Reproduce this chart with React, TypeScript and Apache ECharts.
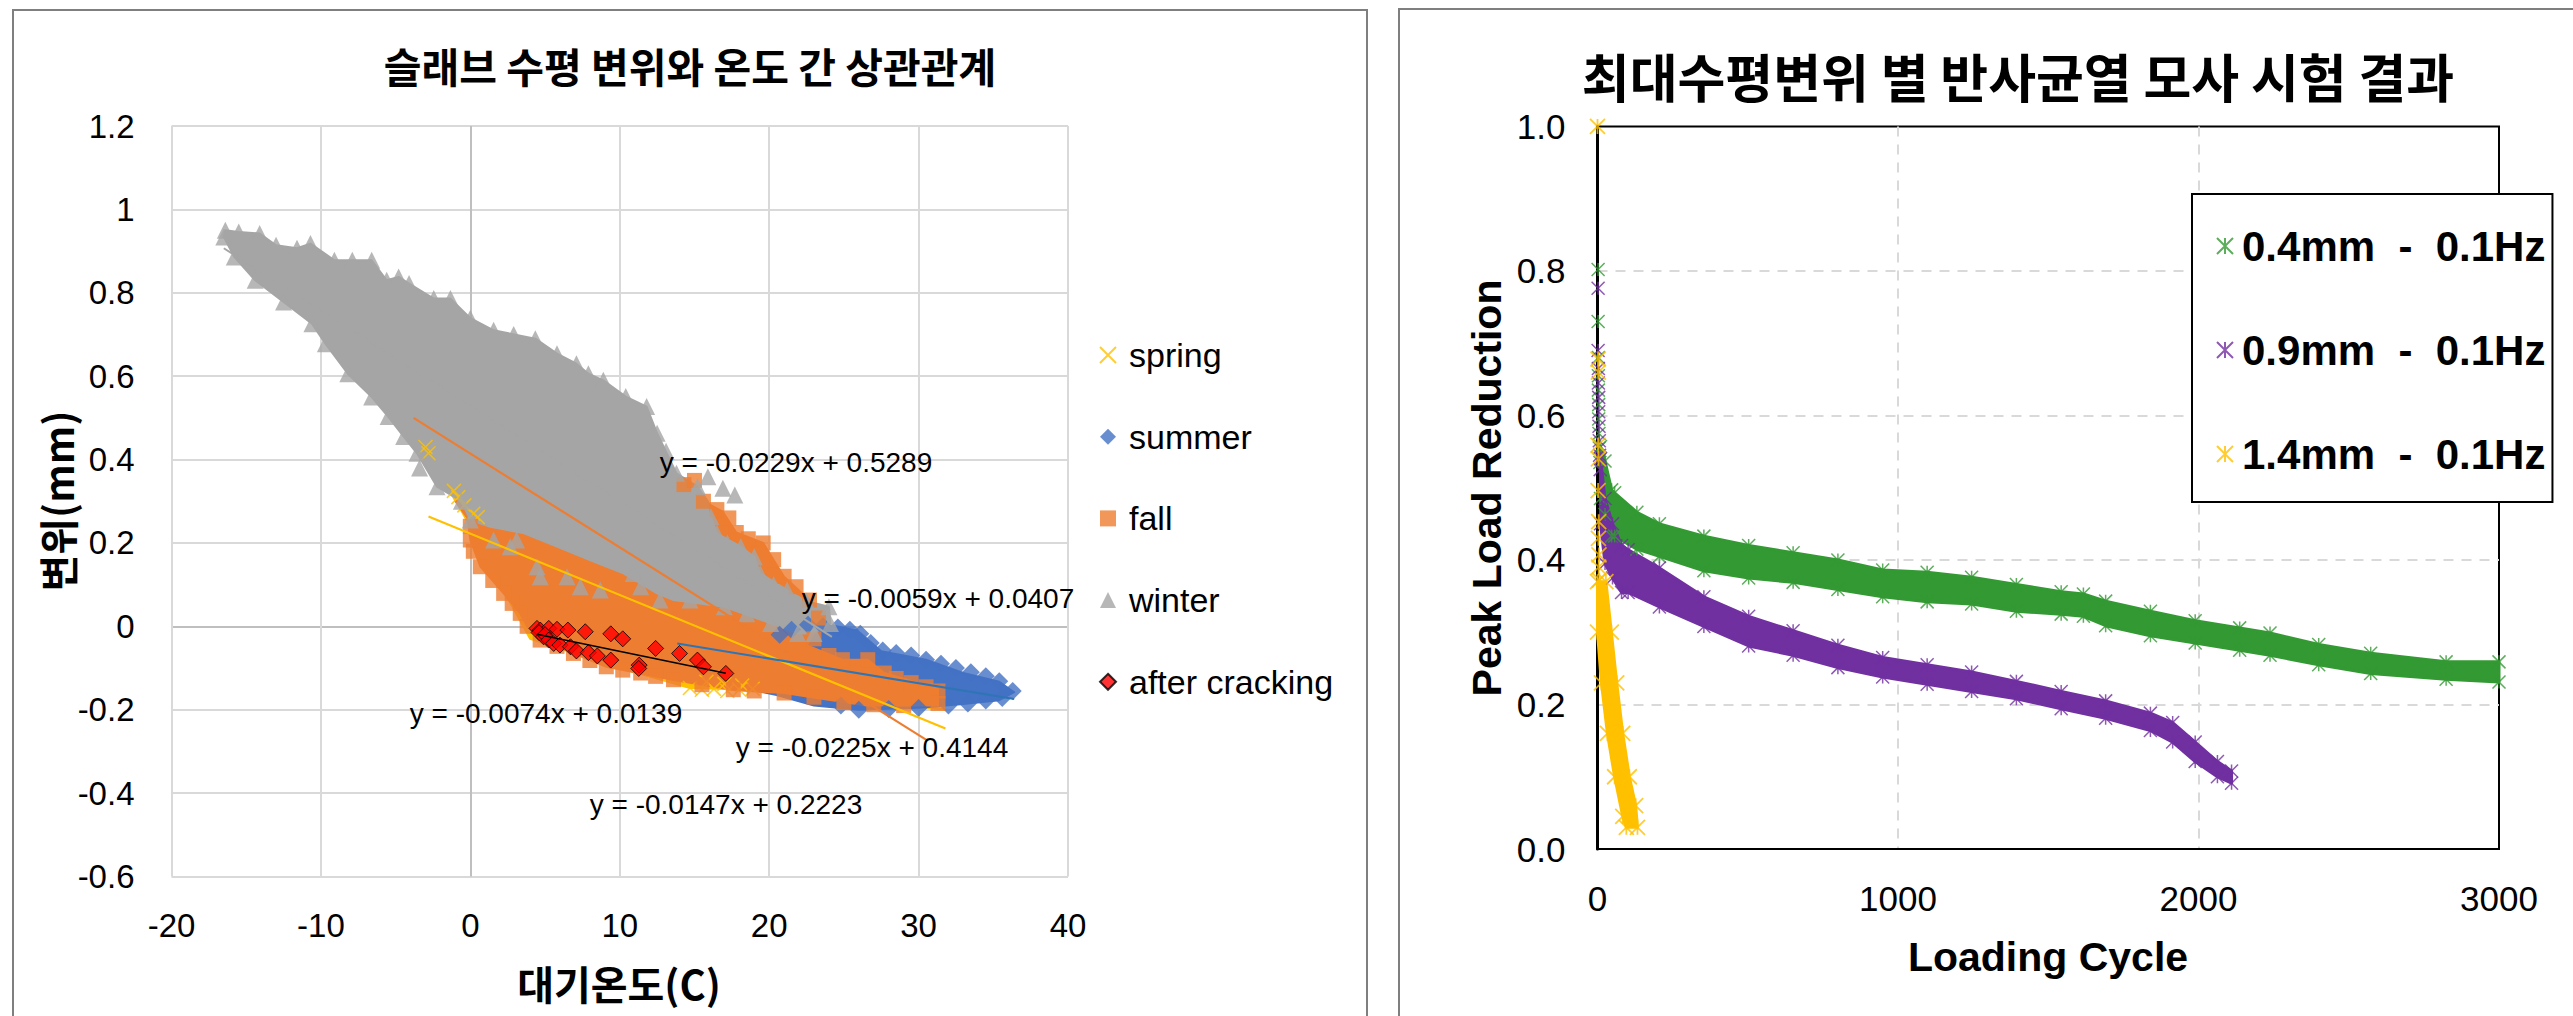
import React, { useEffect, useRef } from "react";
import * as echarts from "echarts";

const LATIN = '"Liberation Sans", Arial, sans-serif';
const KR = '"Noto Sans CJK KR", "Noto Sans", sans-serif';

// ---------- Left chart data (temperature °C, displacement mm) ----------
const leftLegend = ["spring", "summer", "fall", "winter", "after cracking"];

const springCloud: number[][] = [
  [-3.0, 0.43], [-1.2, 0.33], [0.5, 0.27], [5, 0.12], [10, 0.0], [15, -0.09], [19, -0.12], [25, -0.15],
  [31.8, -0.2], [25, -0.175], [19, -0.152], [14.7, -0.148], [10, -0.1], [4, -0.03], [2.0, 0.1], [0.6, 0.2],
  [-0.8, 0.29], [-2.9, 0.41],
];
const springPoints: number[][] = [
  [-3.0, 0.43], [-2.8, 0.415], [-1.1, 0.325], [-0.8, 0.31], [-0.4, 0.29], [0.2, 0.27], [0.5, 0.262],
  [14.7, -0.148], [15.5, -0.152], [16.3, -0.15], [17.2, -0.155], [18.0, -0.152], [18.9, -0.15],
  [15.8, -0.133], [17.0, -0.138], [18.2, -0.142],
];

const summerCloud: number[][] = [
  [14, -0.045], [17, -0.03], [20.5, -0.02], [22.5, 0.004], [24.5, 0.0], [25.9, -0.01], [27.5, -0.06], [30.5, -0.08],
  [33.0, -0.112], [35.4, -0.133], [36.4, -0.158], [35.4, -0.177], [33.0, -0.186], [30.0, -0.195], [26.0, -0.2],
  [23.0, -0.19], [20.5, -0.165], [16, -0.13], [14, -0.08],
];
const summerPoints: number[][] = [
  [20.7, -0.02], [21.5, -0.008], [22.6, 0.004], [23.6, 0.0], [24.6, -0.003], [25.4, -0.008], [26.1, -0.018],
  [26.8, -0.04], [27.6, -0.058], [28.5, -0.064], [29.5, -0.07], [30.5, -0.08], [31.5, -0.09], [32.5, -0.1],
  [33.5, -0.11], [34.5, -0.12], [35.4, -0.132], [36.3, -0.155], [35.6, -0.172], [34.5, -0.178], [33.3, -0.185],
  [32.0, -0.19], [30.0, -0.196], [28.0, -0.198], [26.0, -0.2], [24.8, -0.19],
];

const fallCloud: number[][] = [
  [-1, 0.3], [5, 0.33], [10, 0.34], [14.3, 0.351], [15.6, 0.3], [16.9, 0.275], [17.8, 0.225], [19.6, 0.2],
  [21.0, 0.119], [22.7, 0.063], [23.3, 0.0], [22.5, -0.045], [24.9, -0.08], [26.6, -0.08], [27.7, -0.112],
  [31.3, -0.15], [31.3, -0.19], [26.5, -0.19], [24.3, -0.178], [21.0, -0.16], [17.6, -0.153], [13.6, -0.129],
  [11.4, -0.113], [9.1, -0.097], [6.9, -0.065], [5.8, -0.048], [4.67, -0.033], [3.8, 0.0], [3.34, 0.031],
  [2.23, 0.079], [0.67, 0.143], [0.0, 0.207], [-0.2, 0.26],
];
const fallPoints: number[][] = [
  [14.3, 0.34], [15.0, 0.35], [15.6, 0.3], [16.5, 0.28], [17.3, 0.26], [17.8, 0.225], [18.6, 0.21], [19.6, 0.2],
  [20.3, 0.16], [21.0, 0.12], [21.8, 0.095], [22.7, 0.063], [23.3, 0.02], [23.0, -0.03], [24.0, -0.07],
  [24.9, -0.08], [26.6, -0.08], [27.7, -0.112], [28.5, -0.125], [29.5, -0.135], [30.5, -0.145], [31.3, -0.155],
  [31.3, -0.185], [29, -0.19], [27, -0.188], [25, -0.183], [23, -0.17], [21, -0.16], [19, -0.155], [17.6, -0.152],
  [15.5, -0.14], [13.6, -0.128], [12.4, -0.12], [11.4, -0.112], [10.2, -0.105], [9.1, -0.097], [8.0, -0.082],
  [6.9, -0.065], [5.8, -0.048], [4.67, -0.033], [3.8, 0.0], [3.34, 0.031], [2.8, 0.055], [2.23, 0.079],
  [1.5, 0.11], [0.67, 0.143], [0.2, 0.18], [0.0, 0.207], [0.0, 0.24],
];

const winterCloud: number[][] = [
  [-16.4, 0.95], [-15.5, 0.946], [-14.1, 0.942], [-13.0, 0.914], [-11.6, 0.907], [-10.7, 0.918], [-9.1, 0.878],
  [-7.9, 0.878], [-6.6, 0.878], [-5.6, 0.83], [-4.8, 0.838], [-4.1, 0.822], [-2.45, 0.786], [-1.33, 0.786],
  [0, 0.739], [1.56, 0.71], [4.35, 0.69], [5.8, 0.654], [7.1, 0.63], [7.9, 0.606], [8.9, 0.59], [10.4, 0.551],
  [11.8, 0.527], [12.5, 0.463], [13.8, 0.367], [15.2, 0.335], [15.9, 0.3], [16.1, 0.263], [16.5, 0.223],
  [18.1, 0.191], [19.0, 0.167], [19.4, 0.127], [21.2, 0.087], [22.5, 0.06], [24.0, 0.047], [24.1, 0.007],
  [23.0, -0.017], [21.9, -0.017], [20.1, 0.007], [17.0, 0.047], [13.6, 0.063], [12.5, 0.079], [10.25, 0.127],
  [8.0, 0.159], [5.8, 0.191], [3.6, 0.223], [1.34, 0.239], [0.0, 0.255], [-0.6, 0.3], [-2.23, 0.335],
  [-3.57, 0.415], [-4.46, 0.455], [-5.5, 0.503], [-6.6, 0.55], [-8.2, 0.606], [-9.7, 0.678], [-10.6, 0.726],
  [-12.5, 0.778], [-14.4, 0.83], [-15.8, 0.886], [-16.5, 0.934],
];
const winterPoints: number[][] = [
  [-16.4, 0.95], [-15.5, 0.946], [-14.1, 0.942], [-13.0, 0.914], [-11.6, 0.907], [-10.7, 0.918], [-9.1, 0.878],
  [-7.9, 0.878], [-6.6, 0.878], [-5.6, 0.83], [-4.8, 0.838], [-4.1, 0.822], [-2.45, 0.786], [-1.33, 0.786],
  [0, 0.739], [1.56, 0.71], [2.9, 0.7], [4.35, 0.69], [5.8, 0.654], [7.1, 0.63], [7.9, 0.606], [8.9, 0.59],
  [10.4, 0.551], [11.8, 0.527], [12.5, 0.463], [13.1, 0.42], [13.8, 0.367], [15.2, 0.335], [15.9, 0.359],
  [16.9, 0.331], [17.7, 0.315], [16.1, 0.263], [16.5, 0.223], [17.2, 0.2], [18.1, 0.191], [19.0, 0.167],
  [19.4, 0.127], [20.3, 0.1], [21.2, 0.087], [22.5, 0.06], [24.0, 0.047], [24.1, 0.007], [23.0, -0.017],
  [21.9, -0.017], [20.1, 0.007], [1.56, 0.207], [2.67, 0.191], [3.1, 0.207], [4.46, 0.143], [4.68, 0.119],
  [6.47, 0.119], [7.36, 0.095], [8.7, 0.087], [10.9, 0.127], [11.4, 0.095], [12.7, 0.063], [14.7, 0.063],
  [17.0, 0.047], [18.5, 0.03], [-16.5, 0.934], [-15.8, 0.886], [-14.4, 0.83], [-12.5, 0.778], [-10.6, 0.726],
  [-9.7, 0.678], [-8.2, 0.606], [-6.6, 0.55], [-5.5, 0.503], [-4.46, 0.455], [-3.57, 0.415], [-3.4, 0.38],
  [-2.23, 0.335], [-0.6, 0.3], [0.0, 0.255],
];

const crackPoints: number[][] = [
  [4.46, -0.005], [4.68, -0.009], [5.25, -0.005], [5.8, -0.007], [6.53, -0.009], [7.69, -0.013], [9.4, -0.018],
  [10.2, -0.03], [4.6, -0.015], [4.9, -0.025], [5.0, -0.02], [5.25, -0.033], [5.58, -0.041], [6.0, -0.045],
  [6.7, -0.049], [7.1, -0.059], [7.9, -0.063], [8.5, -0.071], [9.4, -0.081], [11.3, -0.093], [11.27, -0.101],
  [12.4, -0.053], [14.0, -0.065], [15.2, -0.081], [15.6, -0.097], [17.1, -0.113],
];

// trend lines (end points of each fitted line)
const trendSpring = [[-2.8, 0.2635], [31.8, -0.2452]];
const trendSummer = [[13.85, -0.041], [36.4, -0.1741]];
const trendFall = [[-3.8, 0.4999], [30.6, -0.2741]];
const trendWinter = [[-16.5, 0.9068], [24.2, -0.0253]];
const trendCrack = [[4.46, -0.0191], [17.1, -0.1126]];

const equationLabels = [
  "y = -0.0229x + 0.5289",
  "y = -0.0059x + 0.0407",
  "y = -0.0074x + 0.0139",
  "y = -0.0225x + 0.4144",
  "y = -0.0147x + 0.2223",
];

// ---------- Right chart data (loading cycle, peak load reduction) ----------
const rightLegend = ["0.4mm\u00a0 -\u00a0 0.1Hz", "0.9mm\u00a0 -\u00a0 0.1Hz", "1.4mm\u00a0 -\u00a0 0.1Hz"];

const greenStart: number[][] = [
  [2, 0.802], [2, 0.73], [3, 0.68], [3, 0.655], [3, 0.635], [4, 0.615], [4, 0.595], [5, 0.575], [6, 0.555], [8, 0.535],
];
const greenTop: number[][] = [
  [10, 0.557], [25, 0.537], [47, 0.497], [57, 0.493], [131, 0.466], [206, 0.45], [354, 0.433], [503, 0.42],
  [651, 0.41], [800, 0.4], [949, 0.386], [1097, 0.383], [1245, 0.376], [1394, 0.366], [1543, 0.356],
  [1617, 0.353], [1691, 0.343], [1840, 0.329], [1989, 0.316], [2137, 0.306], [2238, 0.299], [2400, 0.283],
  [2573, 0.271], [2824, 0.259], [3000, 0.259],
];
const greenBottom: number[][] = [
  [10, 0.485], [25, 0.463], [47, 0.433], [57, 0.433], [131, 0.415], [206, 0.405], [354, 0.385], [503, 0.375],
  [651, 0.369], [800, 0.359], [949, 0.349], [1097, 0.342], [1245, 0.339], [1394, 0.329], [1543, 0.325],
  [1617, 0.322], [1691, 0.309], [1840, 0.295], [1989, 0.285], [2137, 0.275], [2238, 0.268], [2400, 0.255],
  [2573, 0.243], [2824, 0.235], [3000, 0.231],
];

const purpleStart: number[][] = [
  [2, 0.776], [2, 0.69], [3, 0.665], [3, 0.645], [4, 0.625], [4, 0.605], [5, 0.585], [6, 0.565], [7, 0.545], [9, 0.525],
];
const purpleTop: number[][] = [
  [10, 0.54], [25, 0.485], [50, 0.45], [80, 0.42], [102, 0.414], [206, 0.389], [354, 0.349], [503, 0.322],
  [651, 0.302], [800, 0.282], [949, 0.265], [1097, 0.255], [1245, 0.245], [1394, 0.232], [1543, 0.218],
  [1691, 0.205], [1840, 0.188], [1914, 0.175], [1989, 0.148], [2063, 0.121], [2110, 0.108],
];
const purpleBottom: number[][] = [
  [10, 0.45], [25, 0.395], [50, 0.375], [80, 0.355], [102, 0.355], [206, 0.335], [354, 0.308], [503, 0.281],
  [651, 0.268], [800, 0.251], [949, 0.238], [1097, 0.228], [1245, 0.218], [1394, 0.208], [1543, 0.194],
  [1691, 0.181], [1840, 0.164], [1914, 0.148], [1989, 0.121], [2063, 0.1], [2110, 0.091],
];

const yellowStart: number[][] = [
  [0, 1.0], [2, 0.678], [3, 0.66], [2, 0.559], [3, 0.54], [2, 0.496], [4, 0.453], [3, 0.43], [5, 0.407], [4, 0.39], [6, 0.372],
];
const yellowLeft: number[][] = [[0, 0.37], [0, 0.3], [13, 0.23], [33, 0.16], [57, 0.1], [84, 0.045], [96, 0.03]];
const yellowRight: number[][] = [[133, 0.03], [127, 0.06], [106, 0.1], [84, 0.16], [64, 0.23], [46, 0.3], [28, 0.37]];

const C = {
  spring: "#FFC000",
  summer: "#4472C4",
  fall: "#ED7D31",
  winter: "#A5A5A5",
  crack: "#FF0000",
  green: "#339933",
  purple: "#7030A0",
  yellow: "#FFC000",
};

const XSYM = "path://M0,0L10,10M10,0L0,10";
const STAR = "path://M0,0L10,10M10,0L0,10M5,0L5,10";

function cloud(name: string, pts: number[][], color: string, gi: number, lw = 2) {
  return {
    type: "custom",
    name,
    xAxisIndex: gi,
    yAxisIndex: gi,
    silent: true,
    data: [pts[0]],
    renderItem: (_p: any, api: any) => ({
      type: "polygon",
      shape: { points: pts.map((p) => api.coord(p)) },
      style: { fill: color, stroke: color, lineWidth: lw, lineJoin: "round" },
    }),
  };
}

function trend(pts: number[][], color: string, width: number) {
  return {
    type: "line",
    xAxisIndex: 0,
    yAxisIndex: 0,
    data: pts,
    symbol: "none",
    silent: true,
    lineStyle: { color, width },
  };
}

export default function App() {
  const ref = useRef<HTMLDivElement>(null);
  useEffect(() => {
    const chart = echarts.init(ref.current!, null, { renderer: "svg" });
    const light = "#D9D9D9";
    const zero = "#BFBFBF";
    const series: any[] = [
      cloud("spring-cloud", springCloud, C.spring, 0),
      {
        type: "scatter", name: "spring", xAxisIndex: 0, yAxisIndex: 0, data: springPoints,
        symbol: XSYM, symbolSize: 14,
        itemStyle: { color: "rgba(0,0,0,0)", borderColor: C.spring, borderWidth: 1.6 },
      },
      cloud("summer-cloud", summerCloud, C.summer, 0),
      {
        type: "scatter", name: "summer", xAxisIndex: 0, yAxisIndex: 0, data: summerPoints,
        symbol: "diamond", symbolSize: 18, itemStyle: { color: C.summer },
      },
      cloud("fall-cloud", fallCloud, C.fall, 0),
      {
        type: "scatter", name: "fall", xAxisIndex: 0, yAxisIndex: 0, data: fallPoints,
        symbol: "rect", symbolSize: 15, itemStyle: { color: C.fall },
      },
      cloud("winter-cloud", winterCloud, C.winter, 0),
      {
        type: "scatter", name: "winter", xAxisIndex: 0, yAxisIndex: 0, data: winterPoints,
        symbol: "triangle", symbolSize: 17, itemStyle: { color: C.winter },
      },
      {
        type: "scatter", name: "after cracking", xAxisIndex: 0, yAxisIndex: 0, data: crackPoints,
        symbol: "diamond", symbolSize: 16,
        itemStyle: { color: C.crack, borderColor: "#000", borderWidth: 1 },
      },
      trend(trendWinter, C.winter, 2),
      trend(trendFall, C.fall, 2.2),
      trend(trendSpring, C.spring, 2.2),
      trend(trendSummer, "#2E75B6", 2),
      trend(trendCrack, "#000", 1.5),
      // right chart
      cloud("g-band", greenTop.concat(greenBottom.slice().reverse()), C.green, 1, 3),
      {
        type: "scatter", name: rightLegend[0], xAxisIndex: 1, yAxisIndex: 1,
        data: greenStart.concat(greenTop, greenBottom),
        symbol: STAR, symbolSize: 13,
        itemStyle: { color: "rgba(0,0,0,0)", borderColor: C.green, borderWidth: 1.5 },
      },
      cloud("p-band", purpleTop.concat(purpleBottom.slice().reverse()), C.purple, 1, 3),
      {
        type: "scatter", name: rightLegend[1], xAxisIndex: 1, yAxisIndex: 1,
        data: purpleStart.concat(purpleTop, purpleBottom),
        symbol: STAR, symbolSize: 13,
        itemStyle: { color: "rgba(0,0,0,0)", borderColor: C.purple, borderWidth: 1.5 },
      },
      cloud("y-band", yellowLeft.concat(yellowRight), C.yellow, 1, 3),
      {
        type: "scatter", name: rightLegend[2], xAxisIndex: 1, yAxisIndex: 1,
        data: yellowStart.concat(yellowLeft, yellowRight),
        symbol: STAR, symbolSize: 15,
        itemStyle: { color: "rgba(0,0,0,0)", borderColor: C.yellow, borderWidth: 1.8 },
      },
    ];

    const eqPos = [
      [796, 462], [938, 598], [546, 713], [872, 747], [726, 804],
    ];

    const option: any = {
      animation: false,
      backgroundColor: "#fff",
      grid: [
        { left: 171.5, top: 126, width: 896.5, height: 750.5 },
        { left: 1597.5, top: 126.4, width: 901.5, height: 722.6, show: true, borderColor: "#000", borderWidth: 2, backgroundColor: "#fff" },
      ],
      xAxis: [
        {
          type: "value", gridIndex: 0, min: -20, max: 40, interval: 10,
          axisLine: { show: false }, axisTick: { show: false },
          axisLabel: { fontSize: 33, color: "#000", margin: 32, fontFamily: LATIN },
          splitLine: { show: true, lineStyle: { color: [light, light, zero, light, light, light, light], width: 2 } },
        },
        {
          type: "value", gridIndex: 1, min: 0, max: 3000, interval: 1000,
          axisLine: { show: true, onZero: false, lineStyle: { color: "#000", width: 2 } }, axisTick: { show: false },
          axisLabel: { fontSize: 35, color: "#000", margin: 32, fontFamily: LATIN, formatter: (v: number) => String(v) },
          splitLine: { show: true, showMinLine: false, showMaxLine: false, lineStyle: { color: light, width: 2, type: [10, 8] } },
        },
      ],
      yAxis: [
        {
          type: "value", gridIndex: 0, min: -0.6, max: 1.2, interval: 0.2,
          axisLine: { show: false }, axisTick: { show: false },
          axisLabel: {
            fontSize: 33, color: "#000", margin: 37, fontFamily: LATIN,
            formatter: (v: number) => String(Math.round(v * 10) / 10),
          },
          splitLine: {
            show: true,
            lineStyle: { color: [light, light, light, zero, light, light, light, light, light, light], width: 2 },
          },
        },
        {
          type: "value", gridIndex: 1, min: 0, max: 1, interval: 0.2,
          axisLine: { show: true, onZero: false, lineStyle: { color: "#000", width: 3 } }, axisTick: { show: false },
          axisLabel: { fontSize: 35, color: "#000", margin: 32, fontFamily: LATIN, formatter: (v: number) => v.toFixed(1) },
          splitLine: { show: true, showMinLine: false, showMaxLine: false, lineStyle: { color: light, width: 2, type: [10, 8] } },
        },
      ],
      legend: [
        {
          data: leftLegend, orient: "vertical", left: 1099, top: 338, padding: 0,
          itemWidth: 16, itemHeight: 16, itemGap: 47.7, selectedMode: false,
          textStyle: { fontSize: 34, lineHeight: 33, color: "#000", fontFamily: LATIN, padding: [0, 0, 0, 8] },
        },
        {
          data: rightLegend, orient: "vertical", left: 2192, top: 194, padding: [31, 7, 27, 24],
          itemWidth: 16, itemHeight: 16, itemGap: 62, selectedMode: false,
          borderColor: "#000", borderWidth: 2, backgroundColor: "#fff",
          textStyle: { fontSize: 42, lineHeight: 42, fontWeight: "bold", color: "#000", fontFamily: LATIN, padding: [0, 0, 0, 4] },
        },
      ],
      graphic: [
        { type: "rect", shape: { x: 13, y: 10, width: 1354, height: 1100 }, style: { fill: "none", stroke: "#7F7F7F", lineWidth: 2 }, silent: true },
        { type: "rect", shape: { x: 1399, y: 9, width: 1300, height: 1100 }, style: { fill: "none", stroke: "#7F7F7F", lineWidth: 2 }, silent: true },
        {
          type: "text", x: 690, y: 65,
          style: { text: "슬래브 수평 변위와 온도 간 상관관계", font: `bold 41px ${KR}`, fill: "#000", textAlign: "center", textVerticalAlign: "middle" },
        },
        {
          type: "text", x: 57, y: 501, rotation: Math.PI / 2,
          style: { text: "변위(mm)", font: `bold 40px ${KR}`, fill: "#000", textAlign: "center", textVerticalAlign: "middle" },
        },
        {
          type: "text", x: 619, y: 983,
          style: { text: "대기온도(C)", font: `bold 40px ${KR}`, fill: "#000", textAlign: "center", textVerticalAlign: "middle" },
        },
        ...equationLabels.map((t, i) => ({
          type: "text", x: eqPos[i][0], y: eqPos[i][1], z: 10,
          style: { text: t, font: `28px ${LATIN}`, fill: "#000", textAlign: "center", textVerticalAlign: "middle" },
        })),
        {
          type: "text", x: 2018, y: 75,
          style: { text: "최대수평변위 별 반사균열 모사 시험 결과", font: `bold 52px ${KR}`, fill: "#000", textAlign: "center", textVerticalAlign: "middle" },
        },
        {
          type: "text", x: 1487, y: 488, rotation: Math.PI / 2,
          style: { text: "Peak Load Reduction", font: `bold 41px ${LATIN}`, fill: "#000", textAlign: "center", textVerticalAlign: "middle" },
        },
        {
          type: "text", x: 2048, y: 957,
          style: { text: "Loading Cycle", font: `bold 41px ${LATIN}`, fill: "#000", textAlign: "center", textVerticalAlign: "middle" },
        },
      ],
      series,
    };
    chart.setOption(option);
    return () => chart.dispose();
  }, []);
  return (
    <div
      ref={ref}
      style={{ position: "fixed", left: 0, top: 0, width: 2573, height: 1016, background: "#fff" }}
    />
  );
}
